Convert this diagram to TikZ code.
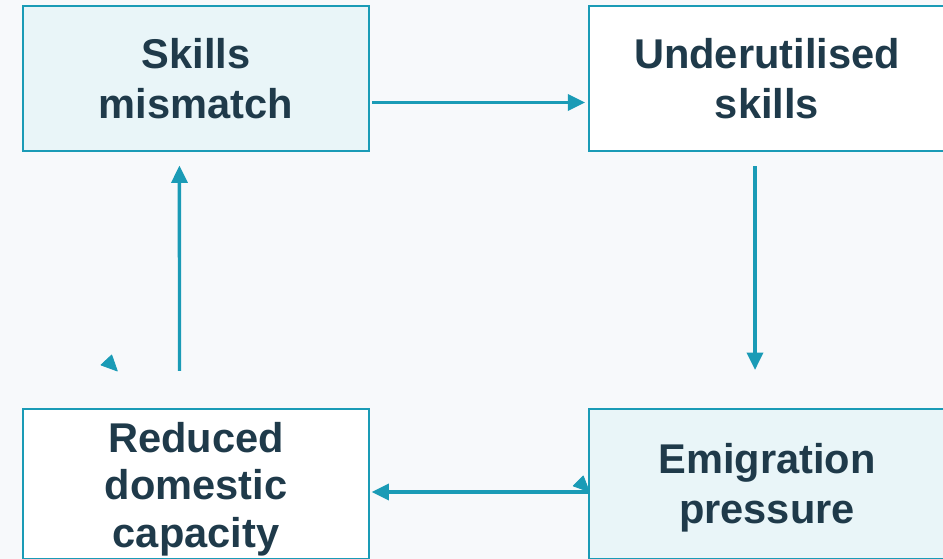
\documentclass[tikz,border=0pt]{standalone}
\usepackage{fontspec}
\setmainfont{Liberation Sans}
\usetikzlibrary{arrows.meta}
\definecolor{bgc}{HTML}{F7F9FB}
\definecolor{teal}{HTML}{1A9BB6}
\definecolor{lightfill}{HTML}{E9F5F8}
\definecolor{txt}{HTML}{1F3A4A}
\tikzset{
  lbl/.style={inner sep=0pt, align=center, text=txt,
    font=\fontsize{31.2}{37.5}\selectfont\bfseries},
  box/.style={draw=teal, line width=1.8pt, inner sep=0pt, lbl},
  hl/.style={fill=lightfill},
  plain/.style={fill=white},
  arr/.style={draw=teal, line width=2.6pt, -{Triangle[length=13pt,width=12pt]}},
  strayhead/.style={fill=teal, draw=teal, line width=0.6pt, line join=round}
}
\begin{document}
\begin{tikzpicture}[x=0.75pt,y=-0.75pt]
\useasboundingbox (0,0) rectangle (943,559);
\clip (0,0) rectangle (943,559);
\fill[bgc] (0,0) rectangle (943,559);
\node[box,hl,minimum width=259.5pt,minimum height=108.75pt] (skills) at (196,78.5) {Skills\\mismatch};
\node[box,plain,minimum width=267pt,minimum height=108.75pt] (under) at (767,78.5) {Underutilised\\skills};
\node[box,plain,minimum width=259.5pt,minimum height=112.5pt] (reduced) at (196,484) {};
\node[lbl,font=\fontsize{31.2}{35.6}\selectfont\bfseries] (reducedtxt) at (196,489) {Reduced\\domestic\\capacity};
\node[box,hl,minimum width=267pt,minimum height=112.5pt] (emig) at (767,484) {};
\node[lbl] (emigtxt) at (767,488) {Emigration\\pressure};
\coordinate (dtip) at (755,370);
\coordinate (ustart) at (179.5,371);
\draw[arr] ([xshift=1.5pt,yshift=-18pt]skills.east) -- ([xshift=-2pt,yshift=-18pt]under.west);
\draw[arr] ([xshift=-9pt,yshift=-10.5pt]under.south) -- (dtip);
\draw[arr] ([yshift=-6pt]emig.west) -- ([xshift=1pt,yshift=-6pt]reduced.east);
\draw[arr] (ustart) -- ([xshift=-12.4pt,yshift=-10pt]skills.south);
\fill[strayhead] (101,365) -- (111.7,355) -- (117.3,371) -- cycle;
\fill[strayhead] (573.3,486) -- (583.3,476) -- (589.3,491.7) -- cycle;
\end{tikzpicture}
\end{document}
